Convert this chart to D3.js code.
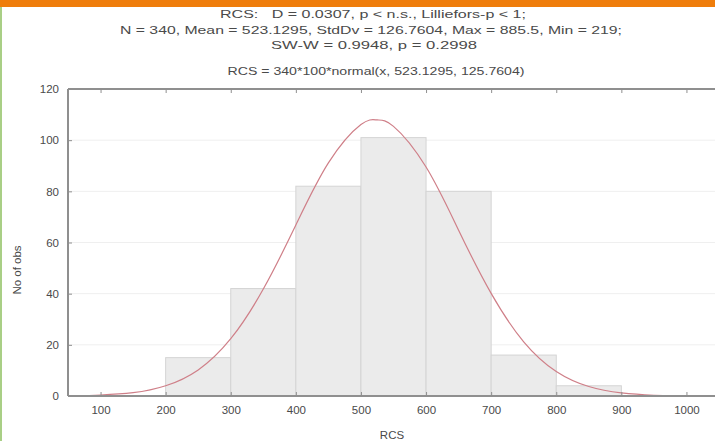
<!DOCTYPE html>
<html><head><meta charset="utf-8">
<script src="https://cdn.jsdelivr.net/npm/d3@7"></script>
<style>
html,body{margin:0;padding:0;background:#fff;}
svg{display:block;font-family:"Liberation Sans",Arial,sans-serif;}
text.t{white-space:pre;}
</style></head>
<body><svg id="c" width="715" height="441"></svg>
<script>
// Histogram bins (RCS), counts
const binStarts = [200, 300, 400, 500, 600, 700, 800];
const binWidth = 100;
const counts = [15, 42, 82, 101, 80, 16, 4];
// fitted normal curve
const curveX = [60, 100, 150, 200, 250, 300, 350, 400, 450, 500, 525, 550, 600, 650, 700, 750, 800, 850, 900, 950, 980];
const curveY = [0.1, 0.4, 1.3, 4.0, 10.2, 22.4, 41.8, 66.8, 91.1, 106.1, 107.9, 105.4, 89.5, 64.8, 40.1, 21.2, 9.6, 3.7, 1.2, 0.3, 0.15];
const xTicks = [100, 200, 300, 400, 500, 600, 700, 800, 900, 1000];
const yTicks = [0, 20, 40, 60, 80, 100, 120];
const titleLines = [
  "RCS:   D = 0.0307, p < n.s., Lilliefors-p < 1;",
  "N = 340, Mean = 523.1295, StdDv = 126.7604, Max = 885.5, Min = 219;",
  "SW-W = 0.9948, p = 0.2998",
  "RCS = 340*100*normal(x, 523.1295, 125.7604)"
];

const svg = d3.select("#c");
const L = 68, R = 719, T = 89, B = 396;
const x = d3.scaleLinear().domain([50, 1050]).range([L, R]);
const y = d3.scaleLinear().domain([0, 120]).range([B, T]);

// frame decorations
svg.append("rect").attr("x",0).attr("y",0).attr("width",715).attr("height",7).attr("fill","#ef7d0b");
svg.append("rect").attr("x",0).attr("y",7).attr("width",2).attr("height",434).attr("fill","#a9cf86");

// grid
svg.append("g").selectAll("line").data(yTicks.slice(1,-1)).join("line")
  .attr("x1",L).attr("x2",R).attr("y1",d=>y(d)).attr("y2",d=>y(d))
  .attr("stroke","#efefef").attr("stroke-width",1);

// bars
svg.append("g").selectAll("rect").data(counts).join("rect")
  .attr("x",(d,i)=>x(binStarts[i]))
  .attr("width",(d,i)=>x(binStarts[i]+binWidth)-x(binStarts[i]))
  .attr("y",d=>y(d)).attr("height",d=>B-y(d))
  .attr("fill","#ebebeb").attr("stroke","#d4d4d4").attr("stroke-width",1);

// curve
const pts = curveX.map((v,i)=>[v,curveY[i]]);
svg.append("path").datum(pts)
  .attr("d", d3.line().x(d=>x(d[0])).y(d=>y(d[1])).curve(d3.curveNatural))
  .attr("fill","none").attr("stroke","#cf7f88").attr("stroke-width",1.2);

// axes
const ax = "#8f8f8f";
const gB = svg.append("g").attr("transform",`translate(0,${B})`)
  .call(d3.axisBottom(x).tickValues(xTicks).tickSize(-4).tickPadding(10).tickFormat(d3.format("d")));
const gT = svg.append("g").attr("transform",`translate(0,${T})`)
  .call(d3.axisTop(x).tickValues(xTicks).tickSize(-4).tickFormat(""));
const gL = svg.append("g").attr("transform",`translate(${L},0)`)
  .call(d3.axisLeft(y).tickValues(yTicks).tickSize(-4).tickPadding(9));
[gB,gT,gL].forEach(g=>{
  g.select(".domain").attr("stroke",ax).attr("stroke-width",2);
  g.selectAll(".tick line").attr("stroke",ax);
  g.selectAll("text").attr("fill","#4a4a4a").style("font-size","11.5px").style("font-family","'Liberation Sans',Arial,sans-serif");
});
gB.select(".domain").attr("d",`M${L},0H${R}`);
gT.select(".domain").attr("d",`M${L},0H${R}`);
gL.select(".domain").attr("d",`M0,${B}V${T}`);

// titles (text stretched horizontally as in the reference)
const titleWidths = [306, 502, 206, 297];
const titleX = [373, 371, 374, 376];
const titleY = [18, 33.5, 48.5, 75];
svg.append("g").attr("fill","#4a4a4a").style("font-size","11px").attr("text-anchor","middle")
  .selectAll("text").data(titleLines).join("text").attr("class","t")
  .attr("xml:space","preserve")
  .attr("x",(d,i)=>titleX[i]).attr("y",(d,i)=>titleY[i])
  .attr("textLength",(d,i)=>titleWidths[i]).attr("lengthAdjust","spacingAndGlyphs")
  .text(d=>d);

svg.append("text").attr("x",392).attr("y",439).attr("text-anchor","middle")
  .attr("fill","#4a4a4a").style("font-size","11.5px").text("RCS");
svg.append("text").attr("transform","translate(21,270) rotate(-90)").attr("text-anchor","middle")
  .attr("fill","#4a4a4a").style("font-size","11.5px").text("No of obs");
</script></body></html>
